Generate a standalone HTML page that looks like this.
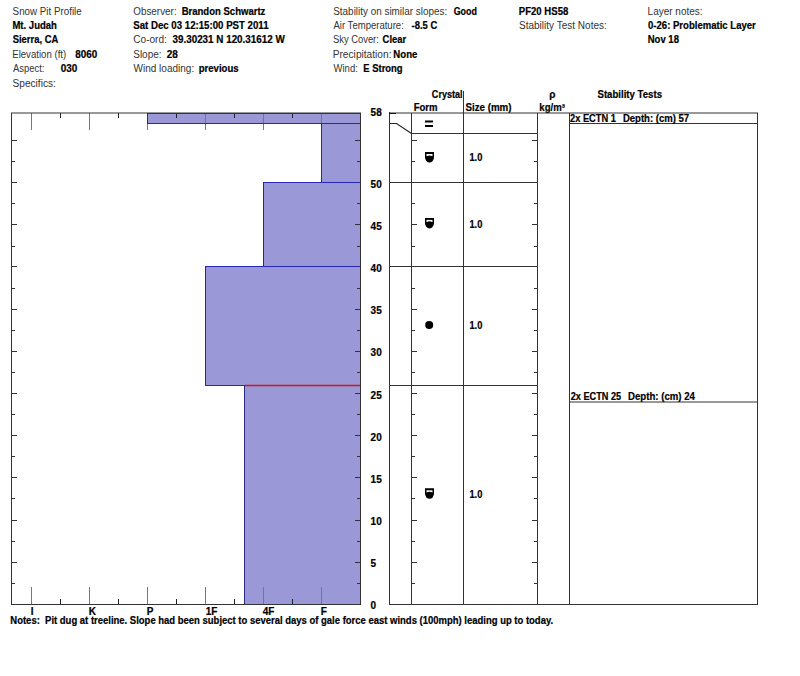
<!DOCTYPE html><html><head><meta charset="utf-8"><style>html,body{margin:0;padding:0;background:#fff;width:800px;height:676px;overflow:hidden}svg{display:block}text{font-family:"Liberation Sans",sans-serif;fill:#000}.r{font-size:10px;fill:#333}.b{font-size:10px;font-weight:bold;stroke:#000;stroke-width:0.2px}.s{font-size:10px;font-weight:bold;stroke:#000;stroke-width:0.2px}</style></head><body>
<svg width="800" height="676" viewBox="0 0 800 676">
<text x="12.61" y="15" class="r" textLength="69.11" lengthAdjust="spacingAndGlyphs">Snow Pit Profile</text>
<text x="12.43" y="29" class="b" textLength="44.50" lengthAdjust="spacingAndGlyphs">Mt. Judah</text>
<text x="12.72" y="43.4" class="b" textLength="45.52" lengthAdjust="spacingAndGlyphs">Sierra, CA</text>
<text x="12.23" y="57.8" class="r" textLength="53.97" lengthAdjust="spacingAndGlyphs">Elevation (ft)</text>
<text x="75.30" y="57.8" class="b" textLength="21.93" lengthAdjust="spacingAndGlyphs">8060</text>
<text x="13.00" y="72.2" class="r" textLength="31.50" lengthAdjust="spacingAndGlyphs">Aspect:</text>
<text x="60.80" y="72.2" class="b" textLength="16.58" lengthAdjust="spacingAndGlyphs">030</text>
<text x="12.49" y="86.6" class="r" textLength="43.41" lengthAdjust="spacingAndGlyphs">Specifics:</text>
<text x="133.26" y="15" class="r" textLength="43.38" lengthAdjust="spacingAndGlyphs">Observer:</text>
<text x="181.63" y="15" class="b" textLength="83.73" lengthAdjust="spacingAndGlyphs">Brandon Schwartz</text>
<text x="133.21" y="29" class="b" textLength="135.36" lengthAdjust="spacingAndGlyphs">Sat Dec 03 12:15:00 PST 2011</text>
<text x="133.25" y="43.4" class="r" textLength="33.60" lengthAdjust="spacingAndGlyphs">Co-ord:</text>
<text x="172.50" y="43.4" class="b" textLength="112.26" lengthAdjust="spacingAndGlyphs">39.30231 N 120.31612 W</text>
<text x="133.25" y="57.8" class="r" textLength="28.30" lengthAdjust="spacingAndGlyphs">Slope:</text>
<text x="166.70" y="57.8" class="b">28</text>
<text x="133.50" y="72.2" class="r" textLength="60.69" lengthAdjust="spacingAndGlyphs">Wind loading:</text>
<text x="198.73" y="72.2" class="b" textLength="39.93" lengthAdjust="spacingAndGlyphs">previous</text>
<text x="333.25" y="15" class="r" textLength="113.98" lengthAdjust="spacingAndGlyphs">Stability on similar slopes:</text>
<text x="453.64" y="15" class="b" textLength="23.29" lengthAdjust="spacingAndGlyphs">Good</text>
<text x="333.50" y="29" class="r" textLength="70.29" lengthAdjust="spacingAndGlyphs">Air Temperature:</text>
<text x="411.62" y="29" class="b" textLength="25.69" lengthAdjust="spacingAndGlyphs">-8.5 C</text>
<text x="333.03" y="43.4" class="r" textLength="45.81" lengthAdjust="spacingAndGlyphs">Sky Cover:</text>
<text x="382.62" y="43.4" class="b" textLength="23.48" lengthAdjust="spacingAndGlyphs">Clear</text>
<text x="332.69" y="57.8" class="r" textLength="58.84" lengthAdjust="spacingAndGlyphs">Precipitation:</text>
<text x="393.33" y="57.8" class="b" textLength="24.06" lengthAdjust="spacingAndGlyphs">None</text>
<text x="333.50" y="72.2" class="r" textLength="24.32" lengthAdjust="spacingAndGlyphs">Wind:</text>
<text x="363.34" y="72.2" class="b" textLength="39.29" lengthAdjust="spacingAndGlyphs">E Strong</text>
<text x="518.83" y="15" class="b" textLength="49.45" lengthAdjust="spacingAndGlyphs">PF20 HS58</text>
<text x="519.00" y="29" class="r" textLength="87.83" lengthAdjust="spacingAndGlyphs">Stability Test Notes:</text>
<text x="647.60" y="15" class="r" textLength="54.93" lengthAdjust="spacingAndGlyphs">Layer notes:</text>
<text x="648.02" y="29" class="b" textLength="107.80" lengthAdjust="spacingAndGlyphs">0-26: Problematic Layer</text>
<text x="647.73" y="43.4" class="b" textLength="31.24" lengthAdjust="spacingAndGlyphs">Nov 18</text>
<text x="431.84" y="98" class="b" textLength="30.80" lengthAdjust="spacingAndGlyphs">Crystal</text>
<text x="413.63" y="110.5" class="b" textLength="23.95" lengthAdjust="spacingAndGlyphs">Form</text>
<text x="465.41" y="110.5" class="b" textLength="46.11" lengthAdjust="spacingAndGlyphs">Size (mm)</text>
<text x="549.3" y="98" class="b">&#961;</text>
<text x="539.33" y="110.5" class="b" textLength="25.63" lengthAdjust="spacingAndGlyphs">kg/m³</text>
<text x="597.51" y="98" class="b" textLength="64.53" lengthAdjust="spacingAndGlyphs">Stability Tests</text>
<rect x="147" y="113" width="213" height="11" fill="#9a98d6"/>
<rect x="321" y="123" width="39" height="60" fill="#9a98d6"/>
<rect x="263" y="182" width="97" height="85" fill="#9a98d6"/>
<rect x="205" y="266" width="155" height="120" fill="#9a98d6"/>
<rect x="244" y="385" width="116" height="219" fill="#9a98d6"/>
<g stroke="#777" stroke-width="1" shape-rendering="crispEdges">
<line x1="31.5" y1="113" x2="31.5" y2="130"/>
<line x1="31.5" y1="587" x2="31.5" y2="604"/>
<line x1="60.5" y1="113" x2="60.5" y2="118" stroke="#222"/>
<line x1="60.5" y1="599" x2="60.5" y2="604" stroke="#222"/>
<line x1="89.5" y1="113" x2="89.5" y2="130"/>
<line x1="89.5" y1="587" x2="89.5" y2="604"/>
<line x1="118.5" y1="113" x2="118.5" y2="118" stroke="#222"/>
<line x1="118.5" y1="599" x2="118.5" y2="604" stroke="#222"/>
<line x1="147.5" y1="113" x2="147.5" y2="130"/>
<line x1="147.5" y1="587" x2="147.5" y2="604"/>
<line x1="176.5" y1="113" x2="176.5" y2="118" stroke="#222"/>
<line x1="176.5" y1="599" x2="176.5" y2="604" stroke="#222"/>
<line x1="205.5" y1="113" x2="205.5" y2="130"/>
<line x1="205.5" y1="587" x2="205.5" y2="604"/>
<line x1="234.5" y1="113" x2="234.5" y2="118" stroke="#222"/>
<line x1="234.5" y1="599" x2="234.5" y2="604" stroke="#222"/>
<line x1="263.5" y1="113" x2="263.5" y2="130"/>
<line x1="263.5" y1="587" x2="263.5" y2="604"/>
<line x1="292.5" y1="113" x2="292.5" y2="118" stroke="#222"/>
<line x1="292.5" y1="599" x2="292.5" y2="604" stroke="#222"/>
<line x1="321.5" y1="113" x2="321.5" y2="130"/>
<line x1="321.5" y1="587" x2="321.5" y2="604"/>
</g>
<g stroke="#2828b0" stroke-width="1" shape-rendering="crispEdges">
<line x1="147.5" y1="113" x2="147.5" y2="124" stroke="#2a2a80"/>
<line x1="147" y1="113.5" x2="360" y2="113.5"/>
<line x1="147" y1="123.5" x2="360" y2="123.5"/>
<line x1="321.5" y1="123" x2="321.5" y2="183" stroke="#2a2a80"/>
<line x1="321" y1="123.5" x2="360" y2="123.5"/>
<line x1="321" y1="182.5" x2="360" y2="182.5"/>
<line x1="263.5" y1="182" x2="263.5" y2="267" stroke="#2a2a80"/>
<line x1="263" y1="182.5" x2="360" y2="182.5"/>
<line x1="263" y1="266.5" x2="360" y2="266.5"/>
<line x1="205.5" y1="266" x2="205.5" y2="386" stroke="#2a2a80"/>
<line x1="205" y1="266.5" x2="360" y2="266.5"/>
<line x1="205" y1="385.5" x2="360" y2="385.5"/>
<line x1="244.5" y1="385" x2="244.5" y2="604" stroke="#2a2a80"/>
<line x1="244" y1="385.5" x2="360" y2="385.5"/>
</g>
<line x1="245" y1="385.5" x2="360" y2="385.5" stroke="#e01010" stroke-width="1.3"/>
<line x1="11" y1="113" x2="361" y2="113" stroke="#333" stroke-width="1"/>
<g stroke="#333" stroke-width="1" shape-rendering="crispEdges" fill="none">
<line x1="11.5" y1="113" x2="11.5" y2="605"/>
<line x1="11" y1="604.5" x2="361" y2="604.5"/>
<line x1="360.5" y1="113" x2="360.5" y2="605"/>
<line x1="12" y1="583.5" x2="15" y2="583.5"/>
<line x1="357" y1="583.5" x2="360" y2="583.5"/>
<line x1="12" y1="562.5" x2="17" y2="562.5"/>
<line x1="355" y1="562.5" x2="360" y2="562.5"/>
<line x1="12" y1="541.5" x2="15" y2="541.5"/>
<line x1="357" y1="541.5" x2="360" y2="541.5"/>
<line x1="12" y1="520.5" x2="17" y2="520.5"/>
<line x1="355" y1="520.5" x2="360" y2="520.5"/>
<line x1="12" y1="498.5" x2="15" y2="498.5"/>
<line x1="357" y1="498.5" x2="360" y2="498.5"/>
<line x1="12" y1="477.5" x2="17" y2="477.5"/>
<line x1="355" y1="477.5" x2="360" y2="477.5"/>
<line x1="12" y1="456.5" x2="15" y2="456.5"/>
<line x1="357" y1="456.5" x2="360" y2="456.5"/>
<line x1="12" y1="435.5" x2="17" y2="435.5"/>
<line x1="355" y1="435.5" x2="360" y2="435.5"/>
<line x1="12" y1="414.5" x2="15" y2="414.5"/>
<line x1="357" y1="414.5" x2="360" y2="414.5"/>
<line x1="12" y1="393.5" x2="17" y2="393.5"/>
<line x1="355" y1="393.5" x2="360" y2="393.5"/>
<line x1="12" y1="372.5" x2="15" y2="372.5"/>
<line x1="357" y1="372.5" x2="360" y2="372.5"/>
<line x1="12" y1="351.5" x2="17" y2="351.5"/>
<line x1="355" y1="351.5" x2="360" y2="351.5"/>
<line x1="12" y1="330.5" x2="15" y2="330.5"/>
<line x1="357" y1="330.5" x2="360" y2="330.5"/>
<line x1="12" y1="309.5" x2="17" y2="309.5"/>
<line x1="355" y1="309.5" x2="360" y2="309.5"/>
<line x1="12" y1="288.5" x2="15" y2="288.5"/>
<line x1="357" y1="288.5" x2="360" y2="288.5"/>
<line x1="12" y1="266.5" x2="17" y2="266.5"/>
<line x1="12" y1="246.5" x2="15" y2="246.5"/>
<line x1="357" y1="246.5" x2="360" y2="246.5"/>
<line x1="12" y1="224.5" x2="17" y2="224.5"/>
<line x1="355" y1="224.5" x2="360" y2="224.5"/>
<line x1="12" y1="203.5" x2="15" y2="203.5"/>
<line x1="357" y1="203.5" x2="360" y2="203.5"/>
<line x1="12" y1="182.5" x2="17" y2="182.5"/>
<line x1="12" y1="161.5" x2="15" y2="161.5"/>
<line x1="357" y1="161.5" x2="360" y2="161.5"/>
<line x1="12" y1="140.5" x2="17" y2="140.5"/>
<line x1="355" y1="140.5" x2="360" y2="140.5"/>
</g>
<text x="370.6" y="609.3" class="s">0</text>
<text x="370.6" y="567.1" class="s">5</text>
<text x="370.6" y="525.0" class="s">10</text>
<text x="370.6" y="482.8" class="s">15</text>
<text x="370.6" y="440.7" class="s">20</text>
<text x="370.6" y="398.5" class="s">25</text>
<text x="370.6" y="356.3" class="s">30</text>
<text x="370.6" y="314.2" class="s">35</text>
<text x="370.6" y="272.0" class="s">40</text>
<text x="370.6" y="229.9" class="s">45</text>
<text x="370.6" y="187.7" class="s">50</text>
<text x="370.6" y="116" class="s">58</text>
<text x="30.7" y="614.8" class="s">I</text>
<text x="88.7" y="614.8" class="s">K</text>
<text x="146.7" y="614.8" class="s">P</text>
<text x="205.7" y="614.8" class="s">1F</text>
<text x="262.7" y="614.8" class="s">4F</text>
<text x="320.7" y="614.8" class="s">F</text>
<text x="10.34" y="623.5" class="b" textLength="542.80" lengthAdjust="spacingAndGlyphs">Notes: &#160;Pit dug at treeline. Slope had been subject to several days of gale force east winds (100mph) leading up to today.</text>
<line x1="389" y1="113" x2="758" y2="113" stroke="#333" stroke-width="1"/>
<g stroke="#333" stroke-width="1" shape-rendering="crispEdges" fill="none">
<line x1="389.5" y1="112" x2="389.5" y2="605"/>
<line x1="411.5" y1="113" x2="411.5" y2="605"/>
<line x1="463.5" y1="91" x2="463.5" y2="605"/>
<line x1="537.5" y1="113" x2="537.5" y2="605"/>
<line x1="569.5" y1="113" x2="569.5" y2="605"/>
<line x1="757.5" y1="113" x2="757.5" y2="605"/>
<line x1="389" y1="604.5" x2="758" y2="604.5"/>
<line x1="389" y1="113.5" x2="396" y2="113.5" stroke="#111"/>
<line x1="411" y1="133.5" x2="538" y2="133.5"/>
<line x1="389" y1="182.5" x2="538" y2="182.5"/>
<line x1="389" y1="266.5" x2="538" y2="266.5"/>
<line x1="389" y1="385.5" x2="538" y2="385.5"/>
<line x1="412" y1="583.5" x2="415" y2="583.5"/>
<line x1="534" y1="583.5" x2="537" y2="583.5"/>
<line x1="412" y1="562.5" x2="417" y2="562.5"/>
<line x1="532" y1="562.5" x2="537" y2="562.5"/>
<line x1="412" y1="541.5" x2="415" y2="541.5"/>
<line x1="534" y1="541.5" x2="537" y2="541.5"/>
<line x1="412" y1="520.5" x2="417" y2="520.5"/>
<line x1="532" y1="520.5" x2="537" y2="520.5"/>
<line x1="412" y1="498.5" x2="415" y2="498.5"/>
<line x1="534" y1="498.5" x2="537" y2="498.5"/>
<line x1="412" y1="477.5" x2="417" y2="477.5"/>
<line x1="532" y1="477.5" x2="537" y2="477.5"/>
<line x1="412" y1="456.5" x2="415" y2="456.5"/>
<line x1="534" y1="456.5" x2="537" y2="456.5"/>
<line x1="412" y1="435.5" x2="417" y2="435.5"/>
<line x1="532" y1="435.5" x2="537" y2="435.5"/>
<line x1="412" y1="414.5" x2="415" y2="414.5"/>
<line x1="534" y1="414.5" x2="537" y2="414.5"/>
<line x1="412" y1="393.5" x2="417" y2="393.5"/>
<line x1="532" y1="393.5" x2="537" y2="393.5"/>
<line x1="412" y1="372.5" x2="415" y2="372.5"/>
<line x1="534" y1="372.5" x2="537" y2="372.5"/>
<line x1="412" y1="351.5" x2="417" y2="351.5"/>
<line x1="532" y1="351.5" x2="537" y2="351.5"/>
<line x1="412" y1="330.5" x2="415" y2="330.5"/>
<line x1="534" y1="330.5" x2="537" y2="330.5"/>
<line x1="412" y1="309.5" x2="417" y2="309.5"/>
<line x1="532" y1="309.5" x2="537" y2="309.5"/>
<line x1="412" y1="288.5" x2="415" y2="288.5"/>
<line x1="534" y1="288.5" x2="537" y2="288.5"/>
<line x1="412" y1="266.5" x2="417" y2="266.5"/>
<line x1="532" y1="266.5" x2="537" y2="266.5"/>
<line x1="412" y1="246.5" x2="415" y2="246.5"/>
<line x1="534" y1="246.5" x2="537" y2="246.5"/>
<line x1="412" y1="224.5" x2="417" y2="224.5"/>
<line x1="532" y1="224.5" x2="537" y2="224.5"/>
<line x1="412" y1="203.5" x2="415" y2="203.5"/>
<line x1="534" y1="203.5" x2="537" y2="203.5"/>
<line x1="412" y1="182.5" x2="417" y2="182.5"/>
<line x1="532" y1="182.5" x2="537" y2="182.5"/>
<line x1="412" y1="161.5" x2="415" y2="161.5"/>
<line x1="534" y1="161.5" x2="537" y2="161.5"/>
<line x1="412" y1="140.5" x2="417" y2="140.5"/>
<line x1="532" y1="140.5" x2="537" y2="140.5"/>
<line x1="569" y1="123.5" x2="758" y2="123.5"/>
</g>
<line x1="569" y1="402" x2="758" y2="402" stroke="#333" stroke-width="1"/>
<polyline points="389.5,123.5 396.5,123.5 411.5,133.5" fill="none" stroke="#222" stroke-width="1.1"/>
<text x="569.97" y="122" class="b" textLength="46.02" lengthAdjust="spacingAndGlyphs">2x ECTN 1</text>
<text x="622.93" y="122" class="b" textLength="66.19" lengthAdjust="spacingAndGlyphs">Depth: (cm) 57</text>
<text x="570.72" y="400" class="b" textLength="50.48" lengthAdjust="spacingAndGlyphs">2x ECTN 25</text>
<text x="628.08" y="400" class="b" textLength="66.77" lengthAdjust="spacingAndGlyphs">Depth: (cm) 24</text>
<g fill="#000">
<rect x="425" y="120.5" width="8" height="2"/><rect x="425" y="125" width="8" height="2"/>
<path d="M425 152 h9 v5 a4.5 5.5 0 0 1 -9 0 z"/>
<rect x="426.5" y="154" width="6" height="2.1" fill="#fff"/>
<circle cx="429.5" cy="158.6" r="3.15"/>
<path d="M425 217.9 h9 v5 a4.5 5.5 0 0 1 -9 0 z"/>
<rect x="426.5" y="219.9" width="6" height="2.1" fill="#fff"/>
<circle cx="429.5" cy="224.5" r="3.15"/>
<path d="M425 488.3 h9 v5 a4.5 5.5 0 0 1 -9 0 z"/>
<rect x="426.5" y="490.3" width="6" height="2.1" fill="#fff"/>
<circle cx="429.5" cy="494.90000000000003" r="3.15"/>
<circle cx="429.2" cy="325" r="4"/>
</g>
<text x="469.44" y="161.1" class="s" textLength="12.93" lengthAdjust="spacingAndGlyphs">1.0</text>
<text x="469.44" y="227.7" class="s" textLength="12.93" lengthAdjust="spacingAndGlyphs">1.0</text>
<text x="469.44" y="328.7" class="s" textLength="12.93" lengthAdjust="spacingAndGlyphs">1.0</text>
<text x="469.44" y="498.1" class="s" textLength="12.93" lengthAdjust="spacingAndGlyphs">1.0</text>
</svg></body></html>
